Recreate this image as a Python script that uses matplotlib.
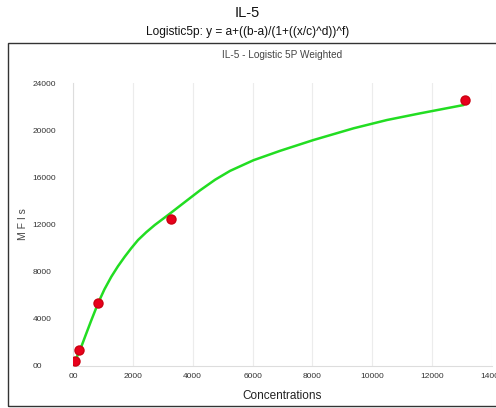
import matplotlib
matplotlib.use("Agg")
import matplotlib.pyplot as plt
from matplotlib.patches import Rectangle

plt.rcParams['font.family'] = ['Liberation Sans', 'DejaVu Sans']

# Standards (measured points)
std_conc = [51, 205, 819, 3275, 13100]
std_mfi = [420, 1350, 5330, 12470, 22560]

# Fitted curve
curve_conc = [45, 57, 150, 278, 420, 600, 836, 1050, 1281, 1500, 1729, 1950, 2174, 2450,
              2732, 3177, 3735, 4247, 4750, 5250, 6029, 6922, 8036, 9373, 10490, 11604, 13052]
curve_mfi = [150, 254, 900, 1637, 2600, 3800, 5316, 6500, 7574, 8450, 9270, 10000, 10685,
             11350, 11957, 12805, 13900, 14900, 15800, 16550, 17450, 18250, 19165, 20157,
             20861, 21429, 22133]

x_ticks = [0, 2000, 4000, 6000, 8000, 10000, 12000, 14000]
x_ticklabels = ["00", "2000", "4000", "6000", "8000", "10000", "12000", "14000"]
y_ticks = [0, 4000, 8000, 12000, 16000, 20000, 24000]
y_ticklabels = ["00", "4000", "8000", "12000", "16000", "20000", "24000"]

W, H = 496, 408
fig = plt.figure(figsize=(W / 100, H / 100), dpi=100)
fig.patch.set_facecolor("white")

# outer frame
fig.patches.append(Rectangle((8 / W, 1 - 406 / H), (W + 5 - 8) / W, (406 - 43) / H,
                             transform=fig.transFigure, fill=False,
                             edgecolor="#333333", linewidth=1.0, clip_on=False))

fig.text(247 / W, 1 - 13 / H, "IL-5", ha="center", va="center", fontsize=10.5, color="#111111")
fig.text(248 / W, 1 - 32 / H, "Logistic5p: y = a+((b-a)/(1+((x/c)^d))^f)", ha="center",
         va="center", fontsize=8.6, color="#111111")

ax = fig.add_axes([73 / W, 1 - 366 / H, (492 - 73) / W, (366 - 83) / H])
ax.set_xlim(0, 14000)
ax.set_ylim(0, 24000)

ax.set_title("IL-5 - Logistic 5P Weighted", fontsize=7.2, color="#444444", pad=18)

ax.plot(curve_conc, curve_mfi, color="#22dd22", linewidth=1.8, zorder=3,
        solid_joinstyle="round", solid_capstyle="round")
ax.plot(std_conc, std_mfi, linestyle="none", marker="o", markersize=6.5,
        color="#e8001c", markeredgecolor="#cc0010", zorder=4)

ax.set_xticks(x_ticks)
ax.set_xticklabels(x_ticklabels, fontsize=6, color="#333333")
ax.set_yticks(y_ticks)
ax.set_yticklabels(y_ticklabels, fontsize=6, color="#333333")
ax.tick_params(axis="both", length=0)
ax.tick_params(axis="x", pad=5)
ax.tick_params(axis="y", pad=29)
for lbl in ax.get_yticklabels():
    lbl.set_horizontalalignment("left")

ax.grid(axis="x", color="#ececec", linewidth=0.8)
ax.set_axisbelow(True)
for s in ["top", "right"]:
    ax.spines[s].set_visible(False)
for s in ["left", "bottom"]:
    ax.spines[s].set_color("#dddddd")
    ax.spines[s].set_linewidth(0.8)

ax.set_xlabel("Concentrations", fontsize=8.5, color="#222222", labelpad=7)
ax.set_ylabel("M F I s", fontsize=7.5, color="#444444")
ax.yaxis.set_label_coords((28 - 73) / 419, 0.5)

fig.savefig("out.png", dpi=100)
